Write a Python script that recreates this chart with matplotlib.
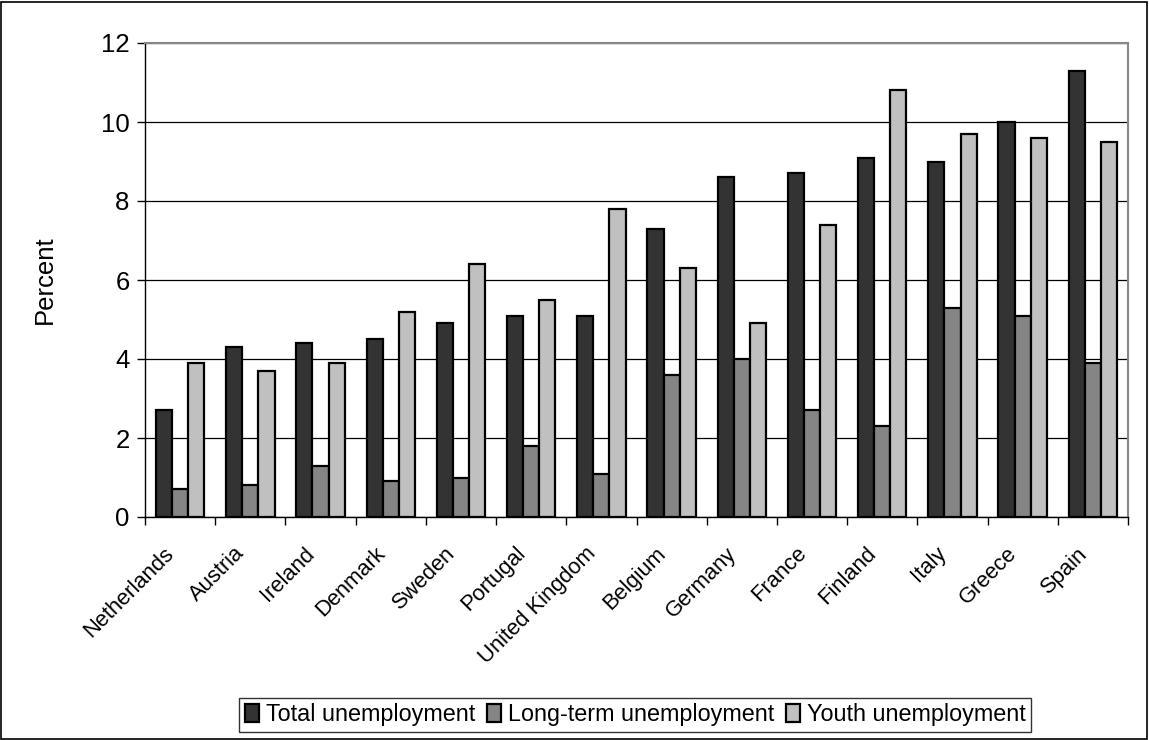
import matplotlib
matplotlib.use("Agg")
import matplotlib.pyplot as plt
import matplotlib.transforms as mtransforms
import numpy as np
from matplotlib.patches import Rectangle

plt.rcParams['font.family'] = ['Liberation Sans', 'DejaVu Sans']

countries = ["Netherlands", "Austria", "Ireland", "Denmark", "Sweden", "Portugal",
             "United Kingdom", "Belgium", "Germany", "France", "Finland", "Italy",
             "Greece", "Spain"]
total = [2.7, 4.3, 4.4, 4.5, 4.9, 5.1, 5.1, 7.3, 8.6, 8.7, 9.1, 9.0, 10.0, 11.3]
longterm = [0.7, 0.8, 1.3, 0.9, 1.0, 1.8, 1.1, 3.6, 4.0, 2.7, 2.3, 5.3, 5.1, 3.9]
youth = [3.9, 3.7, 3.9, 5.2, 6.4, 5.5, 7.8, 6.3, 4.9, 7.4, 10.8, 9.7, 9.6, 9.5]
series_names = ["Total unemployment", "Long-term unemployment", "Youth unemployment"]
colors = ["#333333", "#858585", "#c0c0c0"]
yticks = [0, 2, 4, 6, 8, 10, 12]

W, H = 1149, 740
fig = plt.figure(figsize=(W/100, H/100), dpi=100)
ax = fig.add_axes([145/W, 1-517/H, (1128-145)/W, (517-43)/H])

x = np.arange(len(countries))
bw = 0.23
for i, (vals, c, name) in enumerate(zip([total, longterm, youth], colors, series_names)):
    ax.bar(x + (i-1)*bw, vals, width=bw, color=c, edgecolor="black", linewidth=1.6,
           label=name, zorder=3)

ax.set_xlim(-0.5, len(countries)-0.5)
ax.set_ylim(0, 12)
ax.set_yticks(yticks)
ax.set_yticklabels([str(v) for v in yticks], fontsize=18.5)
ax.yaxis.grid(True, color="black", linewidth=0.9, zorder=0)
ax.set_axisbelow(True)

ax.set_xticks(np.arange(-0.5, len(countries), 1.0))
ax.set_xticklabels([])
ax.set_xticks(x, minor=True)
ax.set_xticklabels(countries, minor=True, rotation=45, ha="right", va="center",
                   rotation_mode="anchor", fontsize=15.8)
ax.tick_params(axis="x", which="minor", length=0, pad=24)
ax.tick_params(axis="x", which="major", length=6, direction="out", width=1)
ax.tick_params(axis="y", length=6, direction="out", width=1, pad=5)
offset = mtransforms.ScaledTranslation(-9/100, 0, fig.dpi_scale_trans)
for lbl in ax.get_xticklabels(minor=True):
    lbl.set_transform(lbl.get_transform() + offset)

for s in ["left", "bottom"]:
    ax.spines[s].set_color("black")
    ax.spines[s].set_linewidth(1)
for s in ["top", "right"]:
    ax.spines[s].set_color("#888888")
    ax.spines[s].set_linewidth(1.5)

ax.set_ylabel("Percent", fontsize=18.5)
ax.yaxis.set_label_coords(-88/983, 0.5)

leg = fig.legend(loc="center", bbox_to_anchor=(635/W, 1-715/H), ncol=3, fontsize=16.8,
                 frameon=True, fancybox=False, edgecolor="black", handlelength=0.6,
                 handleheight=0.8, handletextpad=0.3, columnspacing=0.5,
                 borderpad=0.25)
leg.get_frame().set_linewidth(1)

fig.patches.append(Rectangle((1/W, 1/H), 1-3/W, 1-3/H, transform=fig.transFigure,
                             fill=False, edgecolor="black", linewidth=1.2))

fig.savefig("out.png", dpi=100)
